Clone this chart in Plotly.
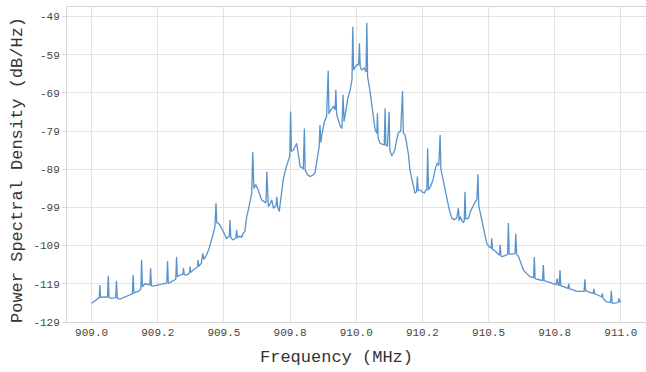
import plotly.graph_objects as go

# Power spectral density trace (frequency in MHz, level in dB/Hz)
freq_mhz = [
    909.000, 909.012, 909.025, 909.029, 909.031, 909.034, 909.050, 909.060, 909.063, 909.066,
    909.076, 909.091, 909.094, 909.097, 909.107, 909.125, 909.145, 909.154, 909.157, 909.160,
    909.176, 909.186, 909.189, 909.192, 909.201, 909.220, 909.223, 909.226, 909.233, 909.258,
    909.284, 909.287, 909.290, 909.296, 909.310, 909.318, 909.321, 909.324, 909.334, 909.345,
    909.347, 909.350, 909.359, 909.370, 909.372, 909.375, 909.384, 909.400, 909.402, 909.405,
    909.415, 909.420, 909.424, 909.435, 909.445, 909.454, 909.460, 909.466, 909.470, 909.473,
    909.479, 909.488, 909.498, 909.505, 909.510, 909.520, 909.523, 909.526, 909.535, 909.545,
    909.548, 909.551, 909.560, 909.567, 909.572, 909.579, 909.586, 909.592, 909.600, 909.605,
    909.609, 909.613, 909.620, 909.630, 909.642, 909.650, 909.659, 909.662, 909.665, 909.668,
    909.675, 909.681, 909.687, 909.697, 909.700, 909.703, 909.709, 909.716, 909.724, 909.735,
    909.743, 909.749, 909.752, 909.755, 909.762, 909.775, 909.780, 909.788, 909.800, 909.804,
    909.807, 909.815, 909.825, 909.835, 909.844, 909.852, 909.860, 909.863, 909.866, 909.870,
    909.880, 909.888, 909.894, 909.897, 909.903, 909.915, 909.920, 909.923, 909.926, 909.932,
    909.940, 909.946, 909.950, 909.954, 909.959, 909.968, 909.977, 909.984, 909.987, 909.990,
    909.998, 910.005, 910.009, 910.012, 910.015, 910.020, 910.030, 910.037, 910.040, 910.043,
    910.051, 910.058, 910.064, 910.071, 910.078, 910.080, 910.083, 910.090, 910.100, 910.106,
    910.109, 910.112, 910.118, 910.124, 910.127, 910.134, 910.140, 910.146, 910.152, 910.159,
    910.168, 910.175, 910.178, 910.184, 910.190, 910.197, 910.203, 910.210, 910.216, 910.222,
    910.228, 910.231, 910.234, 910.241, 910.250, 910.258, 910.262, 910.267, 910.270, 910.273,
    910.280, 910.290, 910.300, 910.306, 910.312, 910.317, 910.320, 910.326, 910.336, 910.345,
    910.352, 910.361, 910.370, 910.380, 910.386, 910.389, 910.393, 910.400, 910.405, 910.408,
    910.411, 910.414, 910.424, 910.432, 910.443, 910.450, 910.456, 910.460, 910.463, 910.468,
    910.475, 910.481, 910.487, 910.493, 910.502, 910.510, 910.512, 910.515, 910.518, 910.528,
    910.541, 910.544, 910.547, 910.550, 910.562, 910.572, 910.575, 910.578, 910.590, 910.600,
    910.603, 910.606, 910.613, 910.622, 910.632, 910.645, 910.657, 910.670, 910.673, 910.676,
    910.682, 910.695, 910.704, 910.707, 910.710, 910.725, 910.745, 910.755, 910.760, 910.763,
    910.767, 910.770, 910.773, 910.785, 910.800, 910.803, 910.806, 910.820, 910.832, 910.845,
    910.861, 910.864, 910.867, 910.880, 910.895, 910.898, 910.901, 910.915, 910.927, 910.930,
    910.933, 910.945, 910.961, 910.964, 910.967, 910.970, 910.982, 910.990, 910.993, 910.996,
    911.000,
]

psd_db = [
    -124.1, -123.5, -122.8, -122.6, -119.3, -122.5, -122.4, -122.5, -116.9, -122.6,
    -122.8, -122.6, -118.2, -122.8, -123.0, -122.4, -121.9, -121.6, -116.7, -121.4,
    -121.0, -120.4, -112.7, -119.8, -119.0, -119.3, -114.9, -119.5, -119.6, -119.3,
    -118.8, -113.0, -118.8, -118.7, -118.2, -117.8, -111.9, -117.2, -116.7, -116.5,
    -114.8, -116.6, -116.7, -116.2, -114.5, -116.0, -115.4, -114.6, -112.8, -114.4,
    -113.6, -111.0, -112.6, -111.4, -109.5, -107.5, -105.8, -104.0, -97.9, -103.0,
    -103.1, -104.0, -105.3, -106.2, -107.1, -106.5, -102.3, -106.9, -107.5, -107.0,
    -104.9, -106.9, -106.5, -106.8, -105.8, -105.3, -101.4, -99.7, -96.5, -95.3,
    -84.4, -94.0, -93.0, -94.5, -97.0, -97.5, -97.8, -89.6, -98.0, -98.8,
    -98.0, -97.0, -99.2, -98.5, -96.2, -98.8, -100.1, -96.5, -91.8, -88.5,
    -86.6, -85.5, -73.9, -84.3, -84.0, -82.2, -84.5, -88.3, -88.8, -78.3,
    -89.2, -90.3, -90.9, -90.6, -90.0, -86.5, -83.0, -77.4, -82.0, -80.0,
    -76.5, -75.2, -63.2, -74.5, -73.5, -72.5, -73.5, -68.2, -74.5, -76.1,
    -77.8, -78.3, -69.5, -76.5, -74.3, -70.5, -68.2, -65.5, -51.7, -63.0,
    -62.0, -61.5, -61.7, -56.0, -62.0, -63.0, -62.5, -63.5, -50.6, -64.8,
    -68.0, -71.5, -75.2, -78.5, -79.6, -74.3, -81.0, -82.2, -82.5, -82.6,
    -73.0, -82.6, -83.0, -74.0, -84.0, -85.5, -84.8, -83.9, -81.5, -79.4,
    -79.0, -68.5, -79.5, -80.0, -82.0, -85.0, -89.2, -91.5, -93.6, -95.3,
    -94.8, -90.9, -94.6, -94.4, -95.0, -95.2, -94.5, -94.4, -83.5, -94.4,
    -93.6, -91.8, -88.5, -87.5, -88.0, -80.0, -89.0, -91.0, -94.4, -97.5,
    -99.7, -101.8, -102.2, -101.8, -99.2, -102.5, -101.4, -102.5, -103.0, -102.5,
    -94.9, -102.0, -101.8, -100.0, -98.3, -97.5, -97.0, -90.3, -98.5, -100.1,
    -102.0, -104.0, -106.5, -108.4, -109.3, -109.6, -107.1, -110.0, -110.1, -110.6,
    -111.5, -108.8, -111.7, -111.9, -111.6, -111.3, -103.1, -111.2, -111.2, -111.0,
    -105.8, -111.2, -111.8, -113.8, -115.4, -116.4, -117.1, -117.4, -112.0, -117.6,
    -117.8, -118.0, -118.1, -114.1, -118.2, -118.5, -119.0, -119.2, -117.6, -119.3,
    -119.4, -115.4, -119.5, -119.8, -120.2, -119.0, -120.3, -120.6, -121.0, -121.0,
    -121.0, -117.8, -120.8, -121.2, -121.5, -120.3, -121.6, -122.0, -122.4, -121.5,
    -122.8, -123.7, -123.9, -120.8, -124.0, -124.1, -124.0, -123.9, -122.8, -123.6,
    -123.8,
]

x_tick_vals = [909.0, 909.25, 909.5, 909.75, 910.0, 910.25, 910.5, 910.75, 911.0]
x_tick_text = ["909.0", "909.2", "909.5", "909.8", "910.0", "910.2", "910.5", "910.8", "911.0"]
y_tick_vals = [-49, -59, -69, -79, -89, -99, -109, -119, -129]
y_tick_text = ["-49", "-59", "-69", "-79", "-89", "-99", "-109", "-119", "-129"]

MONO = "Courier New, Liberation Mono, monospace"
GRID = "#e3e3e3"

fig = go.Figure(
    go.Scatter(
        x=freq_mhz,
        y=psd_db,
        mode="lines",
        line=dict(color="rgba(60,128,194,0.85)", width=1.3),
        hoverinfo="x+y",
    )
)

fig.update_layout(
    width=646,
    height=372,
    margin=dict(l=67, r=0, t=7, b=50),
    paper_bgcolor="white",
    plot_bgcolor="white",
    showlegend=False,
    font=dict(family=MONO, color="#444444"),
    annotations=[
        dict(
            text="Frequency (MHz)",
            xref="paper", yref="paper",
            x=0.466, y=0, yshift=-35,
            xanchor="center", yanchor="middle",
            showarrow=False,
            font=dict(family=MONO, size=17, color="#333333"),
        ),
        dict(
            text="Power Spectral Density (dB/Hz)",
            xref="paper", yref="paper",
            x=0, xshift=-50, y=0.4825,
            xanchor="center", yanchor="middle",
            textangle=-90,
            showarrow=False,
            font=dict(family=MONO, size=17, color="#333333"),
        ),
    ],
)

fig.update_xaxes(
    range=[908.907, 911.095],
    tickmode="array",
    tickvals=x_tick_vals,
    ticktext=x_tick_text,
    tickfont=dict(family=MONO, size=11, color="#444444"),
    showgrid=True,
    gridcolor=GRID,
    gridwidth=1,
    zeroline=False,
    showline=True,
    linecolor="#d6d6d6",
    linewidth=1,
    mirror=True,
    ticks="",
)

fig.update_yaxes(
    range=[-129, -46.5],
    tickmode="array",
    tickvals=y_tick_vals,
    ticktext=y_tick_text,
    tickfont=dict(family=MONO, size=11, color="#444444"),
    showgrid=True,
    gridcolor=GRID,
    gridwidth=1,
    zeroline=False,
    showline=True,
    linecolor="#d6d6d6",
    linewidth=1,
    mirror=True,
    ticks="outside",
    ticklen=4,
    tickcolor="#d6d6d6",
)

fig.write_html("out.html")
